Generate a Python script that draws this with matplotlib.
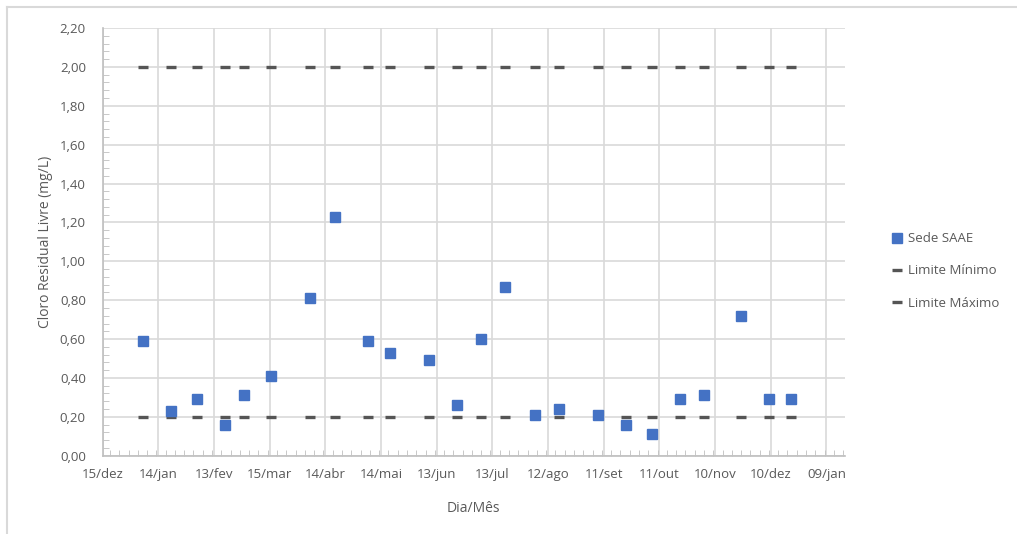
import matplotlib
matplotlib.use("Agg")
import matplotlib.pyplot as plt
import matplotlib.dates as mdates
from matplotlib.lines import Line2D
from matplotlib.ticker import FuncFormatter, MultipleLocator
import numpy as np
import datetime as dt

# datas das coletas e valores medidos (mg/L)
datas = ["2021-01-06", "2021-01-21", "2021-02-04", "2021-02-19", "2021-03-01",
         "2021-03-16", "2021-04-06", "2021-04-19", "2021-05-07", "2021-05-19",
         "2021-06-09", "2021-06-24", "2021-07-07", "2021-07-20", "2021-08-05",
         "2021-08-18", "2021-09-08", "2021-09-23", "2021-10-07", "2021-10-22",
         "2021-11-04", "2021-11-24", "2021-12-09", "2021-12-21"]
sede_saae = [0.59, 0.23, 0.29, 0.16, 0.31, 0.41, 0.81, 1.23, 0.59, 0.53,
             0.49, 0.26, 0.60, 0.87, 0.21, 0.24, 0.21, 0.16, 0.11, 0.29,
             0.31, 0.72, 0.29, 0.29]
limite_min = [0.2] * len(datas)
limite_max = [2.0] * len(datas)

meses = ["jan", "fev", "mar", "abr", "mai", "jun",
         "jul", "ago", "set", "out", "nov", "dez"]
inicio = dt.date(2020, 12, 15)
n_ticks = 14

cinza = "#595959"
plt.rcParams["font.family"] = ["Open Sans", "DejaVu Sans"]

x = mdates.date2num([dt.date.fromisoformat(d) for d in datas])
x0 = mdates.date2num(inicio)

fig = plt.figure(figsize=(10.17, 5.34), dpi=100)
ax = fig.add_axes([0.1008, 0.1466, 0.7301, 0.8010])

ax.plot(x, limite_min, linestyle="none", marker="_", markersize=7.5,
        markeredgewidth=2.4, color="#555555", label="Limite Mínimo", zorder=3)
ax.plot(x, limite_max, linestyle="none", marker="_", markersize=7.5,
        markeredgewidth=2.4, color="#555555", label="Limite Máximo", zorder=3)
ax.plot(x, sede_saae, linestyle="none", marker="s", markersize=6.8,
        color="#4472C4", markeredgecolor="#4472C4", label="Sede SAAE", zorder=4)

ax.set_xlim(x0, x0 + 400)
ax.set_ylim(0, 2.2)
ax.set_xticks([x0 + 30 * k for k in range(n_ticks)])
ax.xaxis.set_minor_locator(MultipleLocator(5))
ax.yaxis.set_major_locator(MultipleLocator(0.2))
ax.yaxis.set_minor_locator(MultipleLocator(0.04))


def fmt_data(v, pos):
    d = mdates.num2date(v)
    return f"{d.day:02d}/{meses[d.month - 1]}"


ax.xaxis.set_major_formatter(FuncFormatter(fmt_data))
ax.yaxis.set_major_formatter(FuncFormatter(lambda v, p: f"{v:.2f}".replace(".", ",")))

ax.grid(True, which="major", color="#d9d9d9", linewidth=1.2)
ax.set_axisbelow(True)
for s in ["top", "right"]:
    ax.spines[s].set_visible(False)
for s in ["left", "bottom"]:
    ax.spines[s].set_color("#bfbfbf")
    ax.spines[s].set_linewidth(1.2)

ax.tick_params(which="major", length=0, labelsize=9.5, labelcolor=cinza, pad=9)
ax.tick_params(which="minor", direction="in", length=4, color="#bfbfbf")
ax.tick_params(axis="y", which="major", pad=12)

ax.set_xlabel("Dia/Mês", fontsize=10, color=cinza, labelpad=14)
ax.set_ylabel("Cloro Residual Livre (mg/L)", fontsize=10, color=cinza, labelpad=5)

h, l = ax.get_legend_handles_labels()
ordem = [2, 0, 1]
leg = ax.legend([h[i] for i in ordem], [l[i] for i in ordem],
                loc="center left", bbox_to_anchor=(1.047, 0.432), frameon=False,
                fontsize=9.5, labelcolor=cinza, handlelength=0.8,
                handletextpad=0.4, labelspacing=1.45)

# moldura do grafico
fig.add_artist(Line2D([0.007, 1.0], [0.987, 0.987], color="#d9d9d9", linewidth=1.5))
fig.add_artist(Line2D([0.007, 0.007], [0.0, 0.987], color="#d9d9d9", linewidth=1.5))

fig.savefig("out.png", dpi=100)
